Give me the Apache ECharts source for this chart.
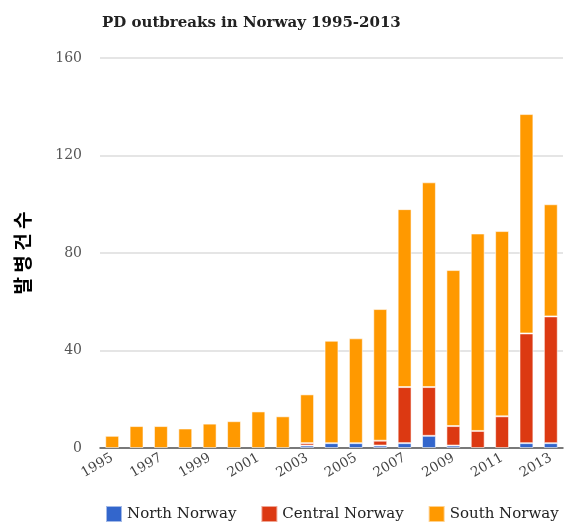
<!DOCTYPE html>
<html>
<head>
<meta charset="utf-8">
<script src="https://cdn.jsdelivr.net/npm/echarts@6/dist/echarts.min.js"></script>
<style>
    html, body { margin: 0; padding: 0; background: #fff; }
    #pdChart { width: 564px; height: 523px; }
</style>
</head>
<body>
<div id="pdChart"></div>
<script>
    var years = ['1995', '1996', '1997', '1998', '1999', '2000', '2001', '2002', '2003', '2004',
        '2005', '2006', '2007', '2008', '2009', '2010', '2011', '2012', '2013'];
    var northNorway = [0, 0, 0, 0, 0, 0, 0, 0, 1, 2, 2, 1, 2, 5, 1, 0, 0, 2, 2];
    var centralNorway = [0, 0, 0, 0, 0, 0, 0, 0, 1, 0, 0, 2, 23, 20, 8, 7, 13, 45, 52];
    var southNorway = [5, 9, 9, 8, 10, 11, 15, 13, 20, 42, 43, 54, 73, 84, 64, 81, 76, 90, 46];

    var serif = '"DejaVu Serif", "Liberation Serif", serif';
    var chart = echarts.init(document.getElementById('pdChart'));

    function barSeries(name, color, data) {
        return {
            name: name,
            type: 'bar',
            stack: 'total',
            barWidth: '57%',
            itemStyle: {
                color: color,
                borderColor: 'rgba(255,255,255,0.55)',
                borderWidth: 1
            },
            // zero counts draw nothing
            data: data.map(function (v) { return v === 0 ? '-' : v; })
        };
    }

    var option = {
        animation: false,
        textStyle: { fontFamily: serif },
        title: {
            text: 'PD outbreaks in Norway 1995-2013',
            left: 97,
            top: 11,
            textStyle: {
                fontFamily: serif,
                fontWeight: 'bold',
                fontSize: 15,
                color: '#222'
            }
        },
        legend: {
            left: 100,
            top: 500,
            width: 464,
            icon: 'rect',
            itemWidth: 16,
            itemHeight: 16,
            itemGap: 24,
            textStyle: { fontFamily: serif, fontSize: 15, color: '#222' },
            data: ['North Norway', 'Central Norway', 'South Norway']
        },
        grid: {
            left: 100,
            right: 1,
            top: 58,
            bottom: 75
        },
        xAxis: {
            type: 'category',
            data: years,
            axisTick: { show: false },
            axisLine: { lineStyle: { color: '#555', width: 1.5 } },
            axisLabel: {
                rotate: 30,
                interval: 1,
                margin: 9,
                fontFamily: serif,
                fontSize: 13.5,
                color: '#444'
            }
        },
        yAxis: {
            type: 'value',
            min: 0,
            max: 160,
            interval: 40,
            name: '발 병 건 수',
            nameLocation: 'middle',
            nameGap: 68,
            nameTextStyle: {
                fontFamily: '"Noto Sans CJK KR", sans-serif',
                fontWeight: 'bold',
                fontSize: 19,
                color: '#000'
            },
            axisLabel: {
                margin: 18,
                fontFamily: serif,
                fontSize: 14,
                color: '#555'
            },
            splitLine: { lineStyle: { color: '#dcdcdc', width: 1.5 } }
        },
        series: [
            barSeries('North Norway', '#3366cc', northNorway),
            barSeries('Central Norway', '#dc3912', centralNorway),
            barSeries('South Norway', '#ff9900', southNorway)
        ]
    };
    chart.setOption(option);
</script>
</body>
</html>
